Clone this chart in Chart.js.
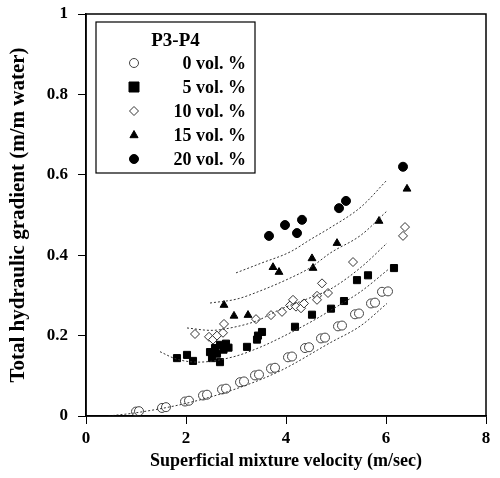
<!DOCTYPE html>
<html>
<head>
<meta charset="utf-8">
<script src="https://cdn.jsdelivr.net/npm/chart.js@4.4.1/dist/chart.umd.min.js"></script>
<style>
  html, body { margin: 0; padding: 0; background: #fff; }
  #wrap { width: 500px; height: 478px; position: relative; }
</style>
</head>
<body>
<div id="wrap"><canvas id="chart" width="500" height="478"></canvas></div>
<script>
const vel0 = [1.0, 1.06, 1.52, 1.6, 1.98, 2.06, 2.34, 2.42, 2.72, 2.8, 3.08, 3.16, 3.38, 3.46, 3.7, 3.78, 4.04, 4.12, 4.38, 4.46, 4.7, 4.78, 5.04, 5.12, 5.38, 5.46, 5.7, 5.78, 5.92, 6.04];
const grad0 = [0.011, 0.012, 0.02, 0.022, 0.036, 0.038, 0.051, 0.053, 0.066, 0.068, 0.084, 0.086, 0.101, 0.103, 0.118, 0.12, 0.146, 0.148, 0.169, 0.171, 0.193, 0.195, 0.223, 0.225, 0.253, 0.255, 0.28, 0.282, 0.309, 0.31];

const vel5 = [1.82, 2.02, 2.14, 2.48, 2.52, 2.58, 2.62, 2.68, 2.68, 2.75, 2.8, 2.85, 3.22, 3.42, 3.44, 3.52, 4.18, 4.52, 4.9, 5.16, 5.42, 5.64, 6.16];
const grad5 = [0.144, 0.152, 0.137, 0.159, 0.144, 0.169, 0.155, 0.177, 0.134, 0.165, 0.18, 0.17, 0.172, 0.19, 0.2, 0.209, 0.222, 0.252, 0.267, 0.286, 0.338, 0.35, 0.368];

const vel10 = [2.18, 2.46, 2.54, 2.62, 2.74, 2.76, 3.4, 3.7, 3.92, 4.08, 4.14, 4.2, 4.3, 4.36, 4.62, 4.62, 4.72, 4.84, 5.34, 6.34, 6.38];
const grad10 = [0.204, 0.197, 0.19, 0.2, 0.207, 0.229, 0.241, 0.251, 0.259, 0.275, 0.289, 0.272, 0.268, 0.28, 0.299, 0.289, 0.33, 0.306, 0.383, 0.448, 0.47];

const vel15 = [2.76, 2.96, 3.24, 3.74, 3.86, 4.52, 4.54, 5.02, 5.86, 6.42];
const grad15 = [0.276, 0.249, 0.251, 0.37, 0.358, 0.392, 0.368, 0.43, 0.485, 0.565];

const vel20 = [3.66, 3.98, 4.22, 4.32, 5.06, 5.2, 6.34];
const grad20 = [0.448, 0.475, 0.455, 0.488, 0.517, 0.535, 0.62];

// model curves (dotted lines)
const fitVel0 = [0.45, 1.0, 2.02, 2.94, 3.88, 4.88, 5.5, 6.02];
const fitGrad0 = [0.0, 0.008, 0.032, 0.065, 0.112, 0.182, 0.225, 0.28];
const fitVel5 = [1.48, 1.8, 2.24, 2.94, 3.5, 3.88, 4.54, 4.88, 5.5, 6.05];
const fitGrad5 = [0.16, 0.142, 0.134, 0.147, 0.172, 0.194, 0.237, 0.262, 0.31, 0.365];
const fitVel10 = [2.02, 2.5, 3.0, 3.42, 3.88, 4.5, 4.88, 5.5, 6.02];
const fitGrad10 = [0.219, 0.213, 0.222, 0.237, 0.265, 0.295, 0.315, 0.37, 0.43];
const fitVel15 = [2.48, 3.02, 3.5, 4.08, 4.5, 4.88, 5.5, 6.02];
const fitGrad15 = [0.281, 0.291, 0.312, 0.343, 0.37, 0.405, 0.45, 0.51];
const fitVel20 = [3.0, 3.5, 4.08, 4.5, 4.88, 5.5, 6.02];
const fitGrad20 = [0.356, 0.38, 0.408, 0.44, 0.468, 0.52, 0.587];

const legendTitle = 'P3-P4';
const seriesLabels = ['0 vol. %', '5 vol. %', '10 vol. %', '15 vol. %', '20 vol. %'];
const xTicks = [0, 2, 4, 6, 8];
const yTicks = [0, 0.2, 0.4, 0.6, 0.8, 1];

const serif = '"Liberation Serif", "Times New Roman", serif';

function pts(xs, ys) {
    return xs.map((x, i) => ({ x: x, y: ys[i] }));
}

const markerStyles = [
    { pointStyle: 'circle', radius: 4.5, fill: '#fff', stroke: '#444' },
    { pointStyle: 'rect', radius: 5, fill: '#000', stroke: '#000' },
    { pointStyle: 'rectRot', radius: 4.5, fill: '#fff', stroke: '#333' },
    { pointStyle: 'triangle', radius: 4.5, fill: '#000', stroke: '#000' },
    { pointStyle: 'circle', radius: 4.5, fill: '#000', stroke: '#000' }
];

const series = [[vel0, grad0], [vel5, grad5], [vel10, grad10], [vel15, grad15], [vel20, grad20]];
const fits = [[fitVel0, fitGrad0], [fitVel5, fitGrad5], [fitVel10, fitGrad10], [fitVel15, fitGrad15], [fitVel20, fitGrad20]];

const datasets = [];
fits.forEach(f => {
    datasets.push({
        type: 'line',
        data: pts(f[0], f[1]),
        borderColor: '#333',
        borderWidth: 1,
        borderDash: [2, 2],
        pointRadius: 0,
        cubicInterpolationMode: 'monotone',
        fill: false
    });
});
series.forEach((s, i) => {
    const m = markerStyles[i];
    datasets.push({
        type: 'scatter',
        label: seriesLabels[i],
        data: pts(s[0], s[1]),
        pointStyle: m.pointStyle,
        pointRadius: m.radius,
        backgroundColor: m.fill,
        borderColor: m.stroke,
        borderWidth: 1
    });
});

function drawMarker(ctx, m, x, y) {
    const r = m.radius;
    if (m.pointStyle === 'circle') {
        ctx.arc(x, y, r, 0, Math.PI * 2);
    } else if (m.pointStyle === 'rect') {
        ctx.rect(x - r, y - r, r * 2, r * 2);
    } else if (m.pointStyle === 'rectRot') {
        ctx.moveTo(x, y - r);
        ctx.lineTo(x + r, y);
        ctx.lineTo(x, y + r);
        ctx.lineTo(x - r, y);
        ctx.closePath();
    } else {
        ctx.moveTo(x, y - r);
        ctx.lineTo(x + r * 0.9, y + r * 0.6);
        ctx.lineTo(x - r * 0.9, y + r * 0.6);
        ctx.closePath();
    }
}

// frame on top/right plus the boxed legend
const framePlugin = {
    id: 'frame',
    afterDraw(chart) {
        const ctx = chart.ctx;
        const a = chart.chartArea;
        ctx.save();
        ctx.strokeStyle = '#000';
        ctx.lineWidth = 1.5;
        ctx.strokeRect(a.left, a.top, a.right - a.left, a.bottom - a.top);

        const bx = 96, by = 22, bw = 159, bh = 151;
        ctx.lineWidth = 1.2;
        ctx.strokeRect(bx, by, bw, bh);
        ctx.fillStyle = '#000';
        ctx.font = 'bold 19px ' + serif;
        ctx.textAlign = 'center';
        ctx.textBaseline = 'middle';
        ctx.fillText(legendTitle, bx + bw / 2, 41);

        const rows = [63, 87, 111, 135, 159];
        ctx.font = 'bold 18px ' + serif;
        ctx.textAlign = 'right';
        seriesLabels.forEach((lab, i) => {
            const m = markerStyles[i];
            ctx.fillStyle = m.fill;
            ctx.strokeStyle = m.stroke;
            ctx.lineWidth = 1;
            ctx.beginPath();
            drawMarker(ctx, m, 134, rows[i]);
            ctx.fill();
            ctx.stroke();
            ctx.fillStyle = '#000';
            ctx.fillText(lab, 246, rows[i] + 1);
        });
        ctx.restore();
    }
};

function yLabel(v) {
    return (v === 0 || v === 1) ? String(v) : v.toFixed(1);
}

new Chart(document.getElementById('chart'), {
    type: 'scatter',
    data: { datasets: datasets },
    options: {
        responsive: false,
        animation: false,
        layout: { padding: { top: 14, right: 14, left: 0, bottom: 0 } },
        plugins: {
            legend: { display: false },
            tooltip: { enabled: false }
        },
        scales: {
            x: {
                type: 'linear',
                min: 0,
                max: 8,
                afterFit: s => { s.height = 62; s.paddingLeft = 0; s.paddingRight = 0; },
                afterBuildTicks: s => { s.ticks = xTicks.map(v => ({ value: v })); },
                ticks: { color: '#000', padding: 4, font: { family: serif, size: 17, weight: 'bold' } },
                grid: { drawOnChartArea: false, drawTicks: true, tickLength: 8, color: '#000', lineWidth: 1 },
                border: { color: '#000', width: 1.5 },
                title: {
                    display: true,
                    text: 'Superficial mixture velocity (m/sec)',
                    color: '#000',
                    padding: { top: 0, bottom: 6 },
                    font: { family: serif, size: 18, weight: 'bold' }
                }
            },
            y: {
                type: 'linear',
                min: 0,
                max: 1,
                afterFit: s => { s.width = 86; s.paddingTop = 0; s.paddingBottom = 0; },
                afterBuildTicks: s => { s.ticks = yTicks.map(v => ({ value: v })); },
                ticks: {
                    color: '#000',
                    padding: 10,
                    font: { family: serif, size: 17, weight: 'bold' },
                    callback: v => yLabel(v)
                },
                grid: { drawOnChartArea: false, drawTicks: true, tickLength: 8, color: '#000', lineWidth: 1 },
                border: { color: '#000', width: 1.5 },
                title: {
                    display: true,
                    text: 'Total hydraulic gradient (m/m water)',
                    color: '#000',
                    padding: { top: 6, bottom: 0 },
                    font: { family: serif, size: 21, weight: 'bold' }
                }
            }
        }
    },
    plugins: [framePlugin]
});
</script>
</body>
</html>
